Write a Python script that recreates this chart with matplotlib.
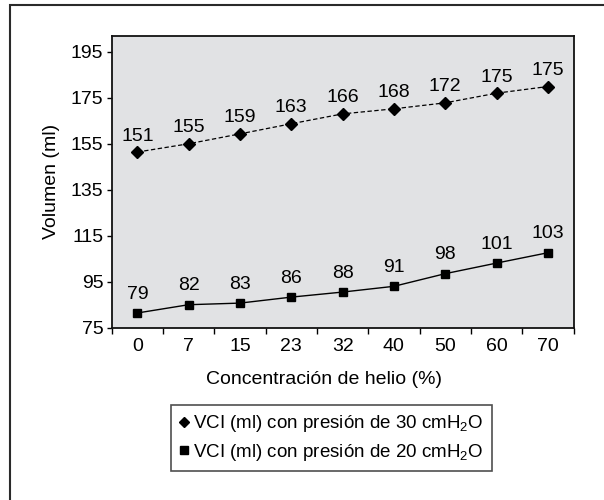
import numpy as np
import matplotlib

matplotlib.use("Agg")
import matplotlib.pyplot as plt
from matplotlib.lines import Line2D
from matplotlib.patches import Rectangle

plt.rcParams["font.family"] = ["Liberation Sans", "DejaVu Sans"]
plt.rcParams["mathtext.fontset"] = "custom"
plt.rcParams["mathtext.rm"] = "Liberation Sans"

# helium concentration categories (%)
helio = ["0", "7", "15", "23", "32", "40", "50", "60", "70"]

# plotted positions
vci_30 = [151.4, 155.0, 159.3, 163.7, 168.0, 170.2, 172.8, 177.0, 179.9]
vci_20 = [81.4, 85.0, 85.7, 88.3, 90.5, 93.0, 98.5, 103.1, 107.6]

# printed data labels
labels_30 = [151, 155, 159, 163, 166, 168, 172, 175, 175]
labels_20 = [79, 82, 83, 86, 88, 91, 98, 101, 103]

yticks = [75, 95, 115, 135, 155, 175, 195]

FS = 14
W, H = 604, 500
fig = plt.figure(figsize=(W / 100, H / 100), dpi=100)
ax = fig.add_axes([111.7 / W, 1 - 327.7 / H, (573.5 - 111.7) / W, (327.7 - 35.7) / H])
ax.set_facecolor("#e1e2e4")

x = np.arange(len(helio))
ax.plot(x, vci_30, color="black", ls=(0, (3.5, 2)), lw=0.9,
        marker="D", ms=5.8, mfc="black", mec="black")
ax.plot(x, vci_20, color="black", ls="-", lw=1.0,
        marker="s", ms=6, mfc="black", mec="black")

for xi, yv, lab in zip(x, vci_30, labels_30):
    ax.annotate(str(lab), (xi, yv), xytext=(0, 11.5), textcoords="offset points",
                ha="center", va="center", fontsize=FS)
for xi, yv, lab in zip(x, vci_20, labels_20):
    ax.annotate(str(lab), (xi, yv), xytext=(0, 13.5), textcoords="offset points",
                ha="center", va="center", fontsize=FS)

ax.set_xlim(-0.5, len(helio) - 0.5)
ax.set_ylim(75, 202)
ax.set_yticks(yticks)
ax.tick_params(axis="y", direction="out", length=3.5, width=1, pad=2.5, labelsize=FS)
ax.set_xticks(x)
ax.set_xticklabels(helio)
ax.tick_params(axis="x", which="major", length=0, pad=7.5, labelsize=FS)
ax.set_xticks(np.arange(len(helio) + 1) - 0.5, minor=True)
ax.tick_params(axis="x", which="minor", direction="out", length=4, width=1)
for sp in ax.spines.values():
    sp.set_linewidth(1.3)
    sp.set_color("#111111")

fig.text(52 / W, 1 - 181.7 / H, "Volumen (ml)", rotation=90, ha="center", va="center", fontsize=FS)
fig.text(323.5 / W, 1 - 379.3 / H, "Concentración de helio (%)", ha="center", va="center", fontsize=FS)

handles = [
    Line2D([], [], ls="none", marker="D", ms=5.2, color="black"),
    Line2D([], [], ls="none", marker="s", ms=5.5, color="black"),
]
names = [
    r"VCI (ml) con presión de 30 cmH$_2$O",
    r"VCI (ml) con presión de 20 cmH$_2$O",
]
leg = fig.legend(handles, names, loc="upper left", bbox_to_anchor=(170.7 / W, 1 - 405 / H),
                 fontsize=13.5, frameon=True, fancybox=False, borderaxespad=0,
                 handlelength=0.52, handletextpad=0.23, labelspacing=0.4, borderpad=0.45)
leg.get_frame().set_edgecolor("#222222")
leg.get_frame().set_linewidth(1.2)

# outer frame, only top and left edges fall inside the image
fig.add_artist(Rectangle((10.3 / W, -0.1), 1.2, 1 - 4.7 / H + 0.1, transform=fig.transFigure,
                         fill=False, lw=1.5, edgecolor="#2a2a2a", clip_on=False))

fig.savefig("out.png", dpi=100)
